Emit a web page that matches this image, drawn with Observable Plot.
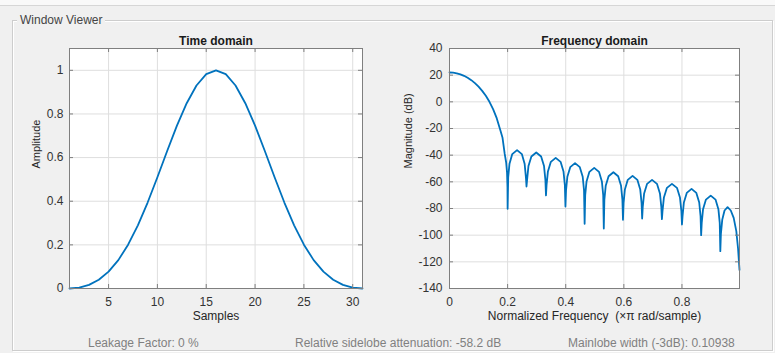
<!DOCTYPE html>
<html>
<head>
<meta charset="utf-8">
<script src="https://cdn.jsdelivr.net/npm/d3@7"></script>
<script src="https://cdn.jsdelivr.net/npm/@observablehq/plot@0.6"></script>
<style>
html,body{margin:0;padding:0;background:#f0f0f0;}
#root{position:relative;width:775px;height:353px;overflow:hidden;background:#f0f0f0;font-family:"Liberation Sans",Arial,sans-serif;}
.topstrip{position:absolute;left:0;top:0;width:775px;height:5px;background:#f9f9f9;border-bottom:1px solid #d6d6d6;}
.group{position:absolute;left:12px;top:20px;width:759px;height:329px;border:1px solid #cdcdcd;box-shadow:inset 1px 1px 0 #ffffff, 1px 1px 0 #ffffff;}
.legend{position:absolute;left:17px;top:12px;padding:0 3px;background:#f0f0f0;font-size:12px;color:#444;line-height:16px;white-space:nowrap;}
.info{position:absolute;top:335px;font-size:12px;color:#808080;line-height:16px;white-space:nowrap;}
.plot{position:absolute;top:30px;}
</style>
</head>
<body>
<div id="root">
  <div class="topstrip"></div>
  <div class="group"></div>
  <div class="legend">Window Viewer</div>
  <div id="p1" class="plot" style="left:0px"></div>
  <div id="p2" class="plot" style="left:380px"></div>
  <div class="info" style="left:88px">Leakage Factor: 0 %</div>
  <div class="info" style="left:295px">Relative sidelobe attenuation: -58.2 dB</div>
  <div class="info" style="left:568px">Mainlobe width (-3dB): 0.10938</div>
</div>
<script>
// ---- Time domain data ----
const samples = [1,2,3,4,5,6,7,8,9,10,11,12,13,14,15,16,17,18,19,20,21,22,23,24,25,26,27,28,29,30,31];
const amplitude = [0, 0.0040, 0.0168, 0.0402, 0.0771, 0.1300, 0.2008, 0.2895, 0.3940, 0.5098, 0.6300,
  0.7462, 0.8492, 0.9303, 0.9822, 1.0000, 0.9822, 0.9303, 0.8492, 0.7462, 0.6300,
  0.5098, 0.3940, 0.2895, 0.2008, 0.1300, 0.0771, 0.0402, 0.0168, 0.0040, 0];
const timeXTicks = [5, 10, 15, 20, 25, 30];
const timeYTicks = [0, 0.2, 0.4, 0.6, 0.8, 1];

// ---- Frequency domain data ----
const freq = [
  0, 0.0125, 0.025, 0.0375, 0.05, 0.0625, 0.075, 0.0875, 0.1, 0.1125, 0.125, 0.1375, 0.15, 0.1625, 0.175, 0.1825, 0.19, 0.195, 0.198, 0.1995, 0.2,
  0.202, 0.2065, 0.216, 0.2325, 0.249, 0.2585, 0.263, 0.265,
  0.267, 0.2717, 0.2818, 0.2985, 0.3153, 0.3253, 0.330, 0.332,
  0.334, 0.3387, 0.3488, 0.3655, 0.3823, 0.3923, 0.397, 0.399,
  0.401, 0.4056, 0.4155, 0.432, 0.4485, 0.4584, 0.463, 0.465,
  0.467, 0.4716, 0.4815, 0.498, 0.5145, 0.5244, 0.529, 0.531,
  0.533, 0.5376, 0.5475, 0.564, 0.5805, 0.5904, 0.595, 0.597,
  0.599, 0.6036, 0.6135, 0.630, 0.6465, 0.6564, 0.661, 0.663,
  0.665, 0.6698, 0.680, 0.697, 0.714, 0.7242, 0.729, 0.731,
  0.733, 0.7379, 0.7483, 0.7655, 0.7828, 0.7931, 0.798, 0.800,
  0.802, 0.8066, 0.8165, 0.833, 0.8495, 0.8594, 0.864, 0.866,
  0.868, 0.8726, 0.8825, 0.899, 0.9155, 0.9254, 0.930, 0.932,
  0.934, 0.9386, 0.9465, 0.957, 0.968, 0.978, 0.987, 0.993, 0.998
];
const magnitudeDb = [
  22.0, 21.85, 21.4, 20.6, 19.5, 18.0, 16.25, 14.0, 11.4, 8.2, 4.5, 0.0, -5.45, -12.25, -21.3, -27, -39.1, -45.5, -53, -64, -80.2,
  -56.7, -46.4, -39.2, -36.2, -39.2, -46.4, -56.7, -63.5,
  -58.5, -48.2, -41.0, -38.0, -41.0, -48.2, -58.5, -70.2,
  -62.5, -52.2, -45.0, -42.0, -45.0, -52.2, -62.5, -78.5,
  -66.5, -56.2, -49.0, -46.0, -49.0, -56.2, -66.5, -91.5,
  -70.0, -59.7, -52.5, -49.5, -52.5, -59.7, -70.0, -95.0,
  -73.3, -63.0, -55.8, -52.8, -55.8, -63.0, -73.3, -88.5,
  -76.0, -65.7, -58.5, -55.5, -58.5, -65.7, -76.0, -87.5,
  -79.0, -68.7, -61.5, -58.5, -61.5, -68.7, -79.0, -88.0,
  -82.0, -71.7, -64.5, -61.5, -64.5, -71.7, -82.0, -92.0,
  -85.8, -75.5, -68.3, -65.3, -68.3, -75.5, -85.8, -100.0,
  -90.8, -80.5, -73.3, -70.3, -73.3, -80.5, -90.8, -112.0,
  -99.0, -88.5, -81.5, -79.0, -81.5, -87.0, -97.0, -110.0, -126.0
];
const freqXTicks = [0, 0.2, 0.4, 0.6, 0.8];
const freqYTicks = [-140, -120, -100, -80, -60, -40, -20, 0, 20, 40];

const LINE = "#0072BD";
const GRID = "#dedede";
const BOX = "#7f7f7f";
const TXT = "#333333";
const FONT = '"Liberation Sans", Arial, sans-serif';

function panel({data, xKey, yKey, xDomain, yDomain, xTicks, yTicks, width, marginRight, title, xLabel, yLabel, yLabelDx, yPad}) {
  const height = 300, mt = 18, mb = 42, ml = 69;
  const fw = width - ml - marginRight, fh = height - mt - mb;
  return Plot.plot({
    width, height,
    marginTop: mt, marginBottom: mb, marginLeft: ml, marginRight,
    style: {fontFamily: FONT, fontSize: "12px", color: TXT, background: "transparent", overflow: "visible"},
    x: {domain: xDomain},
    y: {domain: yDomain},
    marks: [
      Plot.frame({fill: "white", stroke: "none"}),
      Plot.gridX(xTicks, {stroke: GRID, strokeOpacity: 1}),
      Plot.gridY(yTicks, {stroke: GRID, strokeOpacity: 1}),
      Plot.line(data, {x: xKey, y: yKey, stroke: LINE, strokeWidth: 1.8}),
      Plot.tickX(xTicks, {x: d => d, insetTop: fh - 4, stroke: BOX}),
      Plot.tickX(xTicks, {x: d => d, insetBottom: fh - 4, stroke: BOX}),
      Plot.tickY(yTicks, {y: d => d, insetRight: fw - 4, stroke: BOX}),
      Plot.tickY(yTicks, {y: d => d, insetLeft: fw - 4, stroke: BOX}),
      Plot.frame({stroke: BOX, strokeWidth: 1}),
      Plot.axisX(xTicks, {tickSize: 0, tickPadding: 9, tickFormat: d => String(d), label: null, fill: TXT}),
      Plot.axisY(yTicks, {tickSize: 0, tickPadding: yPad, tickFormat: d => String(d), label: null, fill: TXT}),
      Plot.text([title], {text: d => d, frameAnchor: "top", lineAnchor: "middle", dy: -7, fontWeight: "bold", fontSize: 12, fill: "#1a1a1a"}),
      Plot.text([xLabel], {text: d => d, frameAnchor: "bottom", lineAnchor: "middle", dy: 28, fontSize: 12, fill: "#262626"}),
      Plot.text([yLabel], {text: d => d, frameAnchor: "left", lineAnchor: "middle", dx: yLabelDx, rotate: -90, fontSize: 11, fill: "#262626"})
    ]
  });
}

const timeData = samples.map((s, i) => ({s, a: amplitude[i]}));
const freqData = freq.map((f, i) => ({f, m: magnitudeDb[i]}));

document.getElementById("p1").appendChild(panel({
  data: timeData, xKey: "s", yKey: "a", xDomain: [1, 31], yDomain: [0, 1.1],
  xTicks: timeXTicks, yTicks: timeYTicks, width: 380, marginRight: 18,
  title: "Time domain", xLabel: "Samples", yLabel: "Amplitude", yLabelDx: -33.5, yPad: 6
}));

document.getElementById("p2").appendChild(panel({
  data: freqData, xKey: "f", yKey: "m", xDomain: [0, 0.998], yDomain: [-140, 40],
  xTicks: freqXTicks, yTicks: freqYTicks, width: 395, marginRight: 36,
  title: "Frequency domain", xLabel: "Normalized Frequency\u00A0 (\u00D7\u03C0 rad/sample)", yLabel: "Magnitude (dB)", yLabelDx: -41, yPad: 7
}));
</script>
</body>
</html>
